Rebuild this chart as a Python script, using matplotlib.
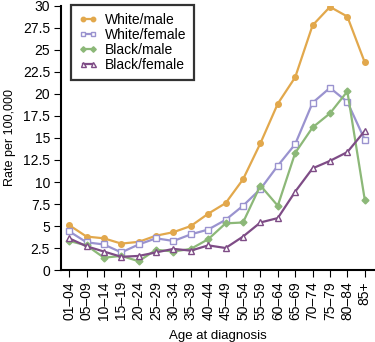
import matplotlib
matplotlib.use("Agg")
import matplotlib.pyplot as plt

plt.rcParams['font.family'] = ['Liberation Sans', 'DejaVu Sans']

# age groups on the x axis
age_groups = ['01\u201304', '05\u201309', '10\u201314', '15\u201319', '20\u201324', '25\u201329',
              '30\u201334', '35\u201339', '40\u201344', '45\u201349', '50\u201354', '55\u201359',
              '60\u201364', '65\u201369', '70\u201374', '75\u201379', '80\u201384', '85+']

# rate per 100,000
white_male = [5.1, 3.8, 3.6, 3.0, 3.2, 3.9, 4.3, 5.0, 6.4, 7.6, 10.3, 14.4,
              18.9, 21.9, 27.8, 29.9, 28.8, 23.6]
white_female = [4.4, 3.15, 2.9, 2.0, 2.9, 3.6, 3.3, 4.05, 4.6, 5.7, 7.3, 9.2,
                11.85, 14.3, 19.0, 20.7, 19.1, 14.8]
black_male = [3.3, 2.8, 1.4, 1.6, 1.0, 2.3, 2.1, 2.4, 3.5, 5.3, 5.4, 9.6,
              7.3, 13.3, 16.2, 17.8, 20.3, 8.0]
black_female = [3.6, 2.7, 2.1, 1.5, 1.6, 2.0, 2.4, 2.2, 2.8, 2.5, 3.8, 5.4,
                5.9, 8.9, 11.55, 12.4, 13.4, 15.8]

fig = plt.figure(figsize=(3.75, 3.42), dpi=100)
ax = fig.add_axes([0.163, 0.2105, 0.837, 0.772])

x = list(range(len(age_groups)))
ax.plot(x, white_male, color='#E2A84C', lw=1.6, marker='o', ms=4,
        label='White/male')
ax.plot(x, white_female, color='#9A93CF', lw=1.6, marker='s', ms=4,
        mfc='white', mew=1.0, label='White/female')
ax.plot(x, black_male, color='#8CB878', lw=1.6, marker='D', ms=3.5,
        label='Black/male')
ax.plot(x, black_female, color='#7E4C86', lw=1.6, marker='^', ms=4.5,
        mfc='white', mew=1.0, label='Black/female')

ax.set_xlim(-0.46, 17.59)
ax.set_ylim(0, 30)
ax.set_xticks(x)
ax.set_xticklabels(age_groups, rotation=90, fontsize=10)
ax.set_yticks([0, 2.5, 5, 7.5, 10, 12.5, 15, 17.5, 20, 22.5, 25, 27.5, 30])
ax.set_yticklabels(['0', '2.5', '5', '7.5', '10', '12.5', '15', '17.5', '20',
                    '22.5', '25', '27.5', '30'], fontsize=10)
ax.tick_params(direction='out', length=5, width=0.8, pad=3)

ax.spines['top'].set_visible(False)
ax.spines['right'].set_visible(False)
ax.spines['left'].set_linewidth(1.5)
ax.spines['bottom'].set_linewidth(1.5)

ax.set_xlabel('Age at diagnosis', fontsize=9.5, labelpad=7)
ax.set_ylabel('Rate per 100,000', fontsize=9, labelpad=5)

leg = ax.legend(loc='upper left', bbox_to_anchor=(0.032, 1.004),
                borderaxespad=0, fontsize=10, numpoints=2, markerscale=0.8,
                frameon=True, fancybox=False, handlelength=1.3,
                borderpad=0.55, labelspacing=0.08, handletextpad=0.6)
leg.get_frame().set_edgecolor('black')
leg.get_frame().set_linewidth(1.6)

fig.savefig('out.png', dpi=100)
